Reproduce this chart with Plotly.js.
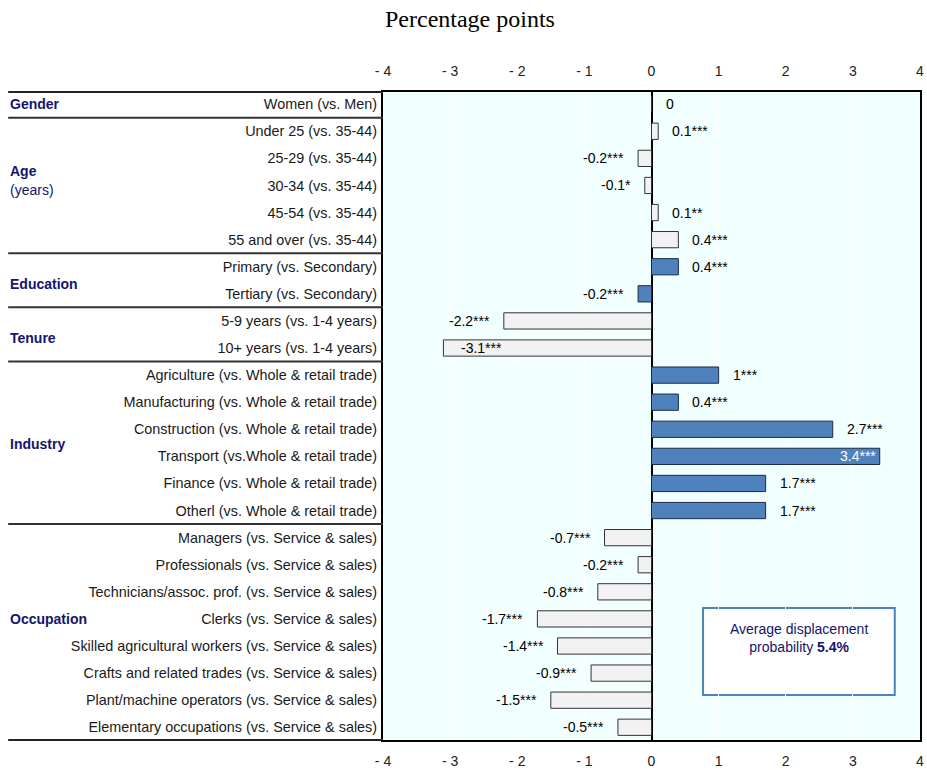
<!DOCTYPE html>
<html>
<head>
<meta charset="utf-8">
<script src="https://cdn.plot.ly/plotly-3.0.1.min.js"></script>
<style>html,body{margin:0;padding:0;background:#fff;}#chart{width:927px;height:770px;}</style>
</head>
<body>
<div id="chart"></div>
<script>
// ---- data ----
const categories = [
  "Women (vs. Men)",
  "Under 25 (vs. 35-44)",
  "25-29 (vs. 35-44)",
  "30-34 (vs. 35-44)",
  "45-54 (vs. 35-44)",
  "55 and over (vs. 35-44)",
  "Primary (vs. Secondary)",
  "Tertiary (vs. Secondary)",
  "5-9 years (vs. 1-4 years)",
  "10+ years (vs. 1-4 years)",
  "Agriculture (vs. Whole & retail trade)",
  "Manufacturing (vs. Whole & retail trade)",
  "Construction (vs. Whole & retail trade)",
  "Transport (vs.Whole & retail trade)",
  "Finance (vs. Whole & retail trade)",
  "Otherl (vs. Whole & retail trade)",
  "Managers (vs. Service & sales)",
  "Professionals (vs. Service & sales)",
  "Technicians/assoc. prof. (vs. Service & sales)",
  "Clerks (vs. Service & sales)",
  "Skilled agricultural workers (vs. Service & sales)",
  "Crafts and related trades (vs. Service & sales)",
  "Plant/machine operators (vs. Service & sales)",
  "Elementary occupations (vs. Service & sales)"
];
const values = [0, 0.1, -0.2, -0.1, 0.1, 0.4, 0.4, -0.2, -2.2, -3.1, 1, 0.4, 2.7, 3.4, 1.7, 1.7, -0.7, -0.2, -0.8, -1.7, -1.4, -0.9, -1.5, -0.5];
const valueLabels = ["0", "0.1***", "-0.2***", "-0.1*", "0.1**", "0.4***", "0.4***", "-0.2***", "-2.2***", "-3.1***",
  "1***", "0.4***", "2.7***", "3.4***", "1.7***", "1.7***",
  "-0.7***", "-0.2***", "-0.8***", "-1.7***", "-1.4***", "-0.9***", "-1.5***", "-0.5***"];
// highlighted (blue) bars
const highlighted = [0,0,0,0,0,0,1,1,0,0,1,1,1,1,1,1,0,0,0,0,0,0,0,0];
const groupNames = ["Gender", "Age", "Education", "Tenure", "Industry", "Occupation"];
const groupSizes = [1, 5, 2, 2, 6, 8];
const xTickVals = [-4, -3, -2, -1, 0, 1, 2, 3, 4];
const xTickText = ["- 4", "- 3", "- 2", "- 1", "0", "1", "2", "3", "4"];
const averageProbability = "5.4%";

// ---- styles / layout helpers ----
const FONT = "Liberation Sans, Arial, sans-serif";
const NAVY = "#14146e";
const BLUE = "#4f81bd";
const GRAY = "#f2f2f2";
const groupLabelRows = [0, 2.47, 6.64, 8.64, 12.55, 19.0];
const leftEdge = -0.698;

const idx = categories.map((_, i) => i);

const barTrace = {
  type: "bar",
  orientation: "h",
  x: values,
  y: idx,
  width: 0.6,
  marker: {
    color: highlighted.map(h => h ? BLUE : GRAY),
    line: { color: highlighted.map(h => h ? "#1c2a44" : "#333333"), width: 1 }
  },
  hoverinfo: "skip",
  xaxis: "x",
  yaxis: "y"
};
const ghostTrace = {
  type: "scatter",
  mode: "markers",
  x: values,
  y: idx,
  marker: { opacity: 0 },
  hoverinfo: "skip",
  showlegend: false,
  xaxis: "x2",
  yaxis: "y"
};

const annotations = [];
values.forEach((v, i) => {
  const inside = Math.abs(v) > 3;
  let xanchor, xshift, color = "#000";
  if (inside) {
    if (v > 0) { xanchor = "right"; xshift = -2; color = highlighted[i] ? "#fff" : "#000"; }
    else { xanchor = "left"; xshift = 16; }
  } else {
    if (v >= 0) { xanchor = "left"; xshift = 12; }
    else { xanchor = "right"; xshift = -12; }
  }
  annotations.push({
    x: v, y: i, xref: "x", yref: "y", text: valueLabels[i], showarrow: false,
    xanchor: xanchor, yanchor: "middle", xshift: xshift,
    font: { family: FONT, size: 14, color: color }
  });
});

groupNames.forEach((g, k) => {
  annotations.push({
    x: leftEdge, xref: "paper", y: groupLabelRows[k], yref: "y", text: "<b>" + g + "</b>",
    showarrow: false, xanchor: "left", yanchor: "middle",
    font: { family: FONT, size: 14, color: NAVY }
  });
});
annotations.push({
  x: leftEdge, xref: "paper", y: groupLabelRows[1] + 0.7, yref: "y", text: "(years)",
  showarrow: false, xanchor: "left", yanchor: "middle",
  font: { family: FONT, size: 14, color: NAVY }
});
annotations.push({
  x: 0.775, xref: "paper", y: 0.158, yref: "paper",
  text: "Average displacement<br>probability <b>" + averageProbability + "</b>",
  showarrow: false, xanchor: "center", yanchor: "middle", align: "center",
  font: { family: FONT, size: 14, color: NAVY }
});

const shapes = [];
let cum = 0;
groupSizes.forEach((s, k) => {
  cum += s;
  if (k < groupSizes.length - 1) {
    shapes.push({
      type: "line", xref: "paper", yref: "y", x0: leftEdge, x1: 0, y0: cum - 0.5, y1: cum - 0.5,
      line: { color: "#333", width: 2 }, layer: "above"
    });
  }
});
[0, 1].forEach(p => shapes.push({
  type: "line", xref: "paper", yref: "paper", x0: leftEdge, x1: 0, y0: p, y1: p,
  line: { color: "#222", width: 2 }, layer: "above"
}));
shapes.push({
  type: "rect", xref: "paper", yref: "paper", x0: 0.596, x1: 0.953, y0: 0.0694, y1: 0.2037,
  fillcolor: "#ffffff", line: { color: BLUE, width: 2 }, layer: "below"
});

const xCommon = {
  range: [-4, 4],
  tickvals: xTickVals,
  ticktext: xTickText,
  tickfont: { family: FONT, size: 14, color: "#222" },
  ticks: "outside", ticklen: 8, tickcolor: "rgba(0,0,0,0)",
  fixedrange: true
};

const layout = {
  width: 927, height: 770,
  margin: { l: 383, r: 7, t: 92, b: 30 },
  paper_bgcolor: "#ffffff",
  plot_bgcolor: "#f2ffff",
  showlegend: false,
  bargap: 0,
  title: {
    text: "Percentage points",
    font: { family: "Liberation Serif, Times New Roman, serif", size: 24, color: "#000" },
    x: 0.507, xref: "container", xanchor: "center",
    y: 0.976, yref: "container", yanchor: "middle"
  },
  xaxis: Object.assign({}, xCommon, {
    side: "top",
    showgrid: true, gridcolor: "rgba(255,255,255,0.9)", gridwidth: 1,
    zeroline: true, zerolinecolor: "#000", zerolinewidth: 2,
    showline: true, mirror: true, linecolor: "#000", linewidth: 2
  }),
  xaxis2: Object.assign({}, xCommon, {
    overlaying: "x", side: "bottom", anchor: "y",
    showgrid: false, zeroline: false, showline: false,
    ticklen: 8
  }),
  yaxis: {
    range: [23.47, -0.45],
    tickvals: idx,
    ticktext: categories,
    tickfont: { family: FONT, size: 14.4, color: "#1a1a1a" },
    ticks: "outside", ticklen: 1, tickcolor: "rgba(0,0,0,0)",
    showgrid: false, zeroline: false,
    showline: true, mirror: true, linecolor: "#000", linewidth: 2,
    fixedrange: true
  },
  annotations: annotations,
  shapes: shapes
};

Plotly.newPlot("chart", [barTrace, ghostTrace], layout, { displayModeBar: false, staticPlot: true });
</script>
</body>
</html>
